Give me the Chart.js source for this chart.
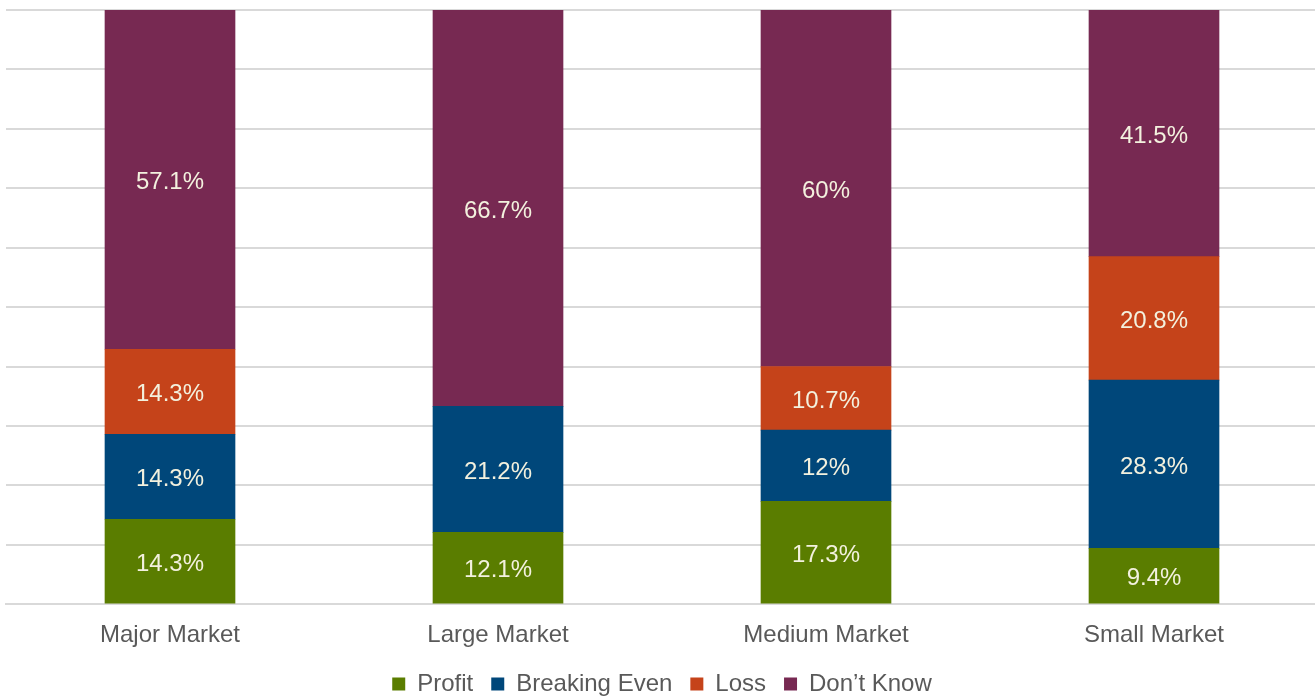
<!DOCTYPE html>
<html>
<head>
<meta charset="utf-8">
<script src="https://cdn.jsdelivr.net/npm/chart.js@4.4.1/dist/chart.umd.min.js"></script>
<style>
  html, body { margin: 0; padding: 0; background: #ffffff; overflow: hidden; }
  #wrap { position: relative; width: 1318px; height: 696px; }
</style>
</head>
<body>
<div id="wrap"><canvas id="chart"></canvas></div>
<script>
// Survey shares per market size (percent of respondents)
const categories = ['Major Market', 'Large Market', 'Medium Market', 'Small Market'];
const seriesNames = ['Profit', 'Breaking Even', 'Loss', 'Don\u2019t Know'];
const profit = [14.3, 12.1, 17.3, 9.4];
const breakingEven = [14.3, 21.2, 12, 28.3];
const loss = [14.3, null, 10.7, 20.8];
const dontKnow = [57.1, 66.7, 60, 41.5];
const yTicks = [0, 10, 20, 30, 40, 50, 60, 70, 80, 90, 100];

const colors = ['#5a7d00', '#00477a', '#c5431a', '#772952'];
const seriesValues = [profit, breakingEven, loss, dontKnow];

const FONT = '"Liberation Sans", Arial, sans-serif';

// Writes each segment's value in the middle of its bar piece
const segmentLabels = {
  id: 'segmentLabels',
  afterDatasetsDraw(chart) {
    const ctx = chart.ctx;
    ctx.save();
    ctx.font = '24px ' + FONT;
    ctx.fillStyle = '#f3f1de';
    ctx.textAlign = 'center';
    ctx.textBaseline = 'middle';
    chart.data.datasets.forEach((ds, i) => {
      const meta = chart.getDatasetMeta(i);
      meta.data.forEach((bar, j) => {
        const v = ds.data[j];
        if (v === null || v === undefined) return;
        const mid = (bar.y + bar.base) / 2;
        ctx.fillText(v + '%', bar.x, mid + 3);
      });
    });
    ctx.restore();
  }
};

new Chart(document.getElementById('chart'), {
  type: 'bar',
  data: {
    labels: categories,
    datasets: seriesNames.map((name, i) => ({
      label: name,
      data: seriesValues[i],
      backgroundColor: colors[i],
      borderWidth: 0,
      barThickness: 130
    }))
  },
  options: {
    responsive: true,
    maintainAspectRatio: false,
    animation: false,
    layout: { padding: { left: 6, right: 0, top: 10, bottom: -10 } },
    plugins: {
      tooltip: { enabled: false },
      legend: {
        position: 'bottom',
        labels: {
          boxWidth: 13,
          boxHeight: 13,
          padding: 18,
          color: '#595959',
          font: { family: FONT, size: 24 }
        }
      }
    },
    scales: {
      x: {
        stacked: true,
        grid: { display: false },
        border: { display: true, color: '#d9d9d9', width: 2 },
        ticks: {
          color: '#595959',
          font: { family: FONT, size: 24 },
          padding: 9
        },
        afterFit(scale) {
          scale.height -= 5;
        }
      },
      y: {
        stacked: true,
        min: 0,
        max: 100,
        afterBuildTicks(scale) {
          scale.ticks = yTicks.map(v => ({ value: v }));
        },
        ticks: { display: false },
        grid: { color: '#d9d9d9', lineWidth: 2, drawTicks: false },
        border: { display: false }
      }
    }
  },
  plugins: [segmentLabels]
});
</script>
</body>
</html>
